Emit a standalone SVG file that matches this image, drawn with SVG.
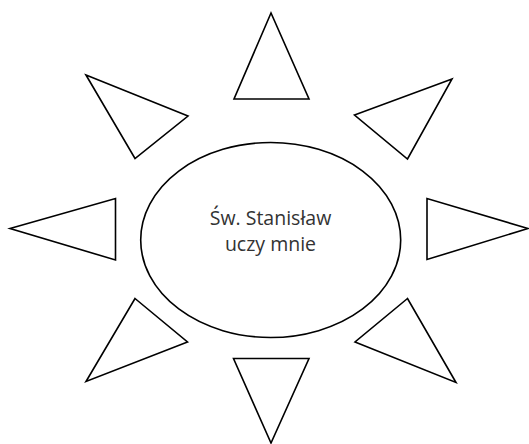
<svg xmlns="http://www.w3.org/2000/svg" width="529" height="444" viewBox="0 0 529 444">
<style>
.s{fill:#fff;stroke:#000;stroke-width:1.6;stroke-linejoin:miter}
.t{font-family:"Open Sans","Noto Sans",sans-serif;font-size:19.5px;fill:#333;text-anchor:middle}
</style>
<rect width="529" height="444" fill="#fff"/>
<g id="ray-top"><polygon class="s" points="271,13 234,99 309,99"/></g>
<g id="ray-top-left"><polygon class="s" points="86,75 188,116 135,158.5"/></g>
<g id="ray-top-right"><polygon class="s" points="452,79 354.5,115 407.5,159"/></g>
<g id="ray-left"><polygon class="s" points="10,228.5 115.5,198.5 115.5,260"/></g>
<g id="ray-right"><polygon class="s" points="427,198.5 427,259.5 528,228.5"/></g>
<g id="ray-bottom-left"><polygon class="s" points="135,298.5 187.5,342 86,381.5"/></g>
<g id="ray-bottom-right"><polygon class="s" points="407.5,298.5 355,342 456,382.5"/></g>
<g id="ray-bottom"><polygon class="s" points="233.5,358.5 309,358.5 271,443"/></g>
<g id="sun">
<ellipse class="s" cx="270.7" cy="240" rx="130" ry="97.5"/>
<text class="t" x="270.5" y="225">Św. Stanisław</text>
<text class="t" x="270.5" y="251">uczy mnie</text>
</g>
<g id="connectors"></g>
</svg>
